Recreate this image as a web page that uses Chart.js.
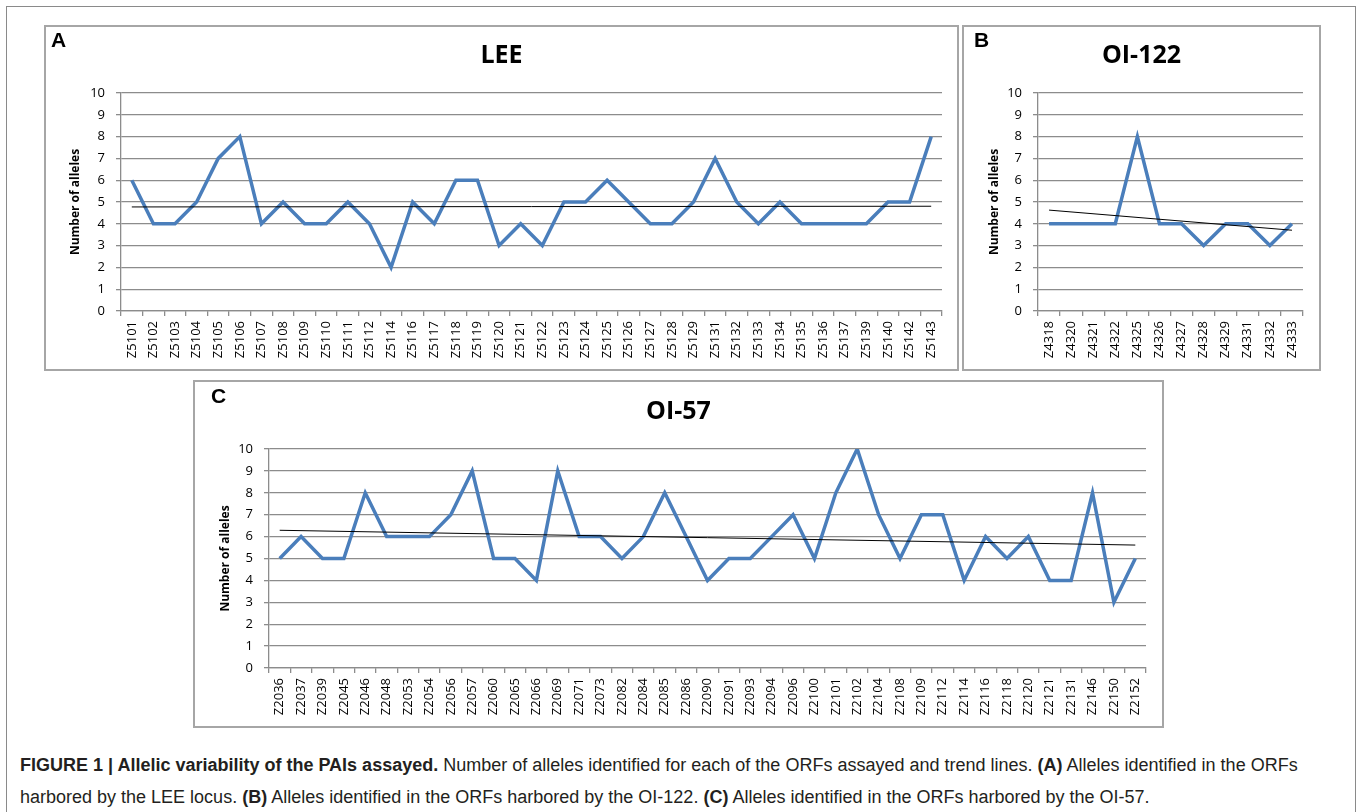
<!DOCTYPE html>
<html>
<head>
<meta charset="utf-8">
<script src="https://cdn.jsdelivr.net/npm/chart.js@4.4.1/dist/chart.umd.min.js"></script>
<style>
  body { margin: 0; background: #fff; width: 1357px; height: 812px; overflow: hidden; position: relative; font-family: "Liberation Sans", Arial, sans-serif; }
  .frame { position: absolute; left: 6px; top: 6px; width: 1350px; height: 830px; border: 1.5px solid #8a8a8a; box-sizing: border-box; }
  .panel { position: absolute; border: 2px solid #a6a6a6; box-sizing: border-box; background: #fff; }
  .panel canvas { display: block; }
  .letter { position: absolute; font: bold 21px "Liberation Sans", Arial, sans-serif; color: #000; }
  .caption { position: absolute; left: 20px; top: 749px; font-size: 18px; line-height: 32px; color: #231f20; white-space: nowrap; }
  .caption b { font-weight: bold; }
</style>
</head>
<body>
<div class="frame"></div>

<div class="panel" style="left:44px; top:25px; width:915px; height:346px;">
  <canvas id="chart-lee" width="911" height="342"></canvas>
</div>
<div class="letter" style="left:51px; top:28px;">A</div>

<div class="panel" style="left:962px; top:25px; width:359px; height:346px;">
  <canvas id="chart-oi122" width="355" height="342"></canvas>
</div>
<div class="letter" style="left:974px; top:28px;">B</div>

<div class="panel" style="left:193px; top:380px; width:971px; height:348px;">
  <canvas id="chart-oi57" width="967" height="344"></canvas>
</div>
<div class="letter" style="left:211px; top:384px;">C</div>

<div class="caption">
  <div><b>FIGURE 1 | Allelic variability of the PAIs assayed.</b> Number of alleles identified for each of the ORFs assayed and trend lines. <b>(A)</b> Alleles identified in the ORFs</div>
  <div>harbored by the LEE locus. <b>(B)</b> Alleles identified in the ORFs harbored by the OI-122. <b>(C)</b> Alleles identified in the ORFs harbored by the OI-57.</div>
</div>

<script>
// data
const leeLabels = ['Z5101', 'Z5102', 'Z5103', 'Z5104', 'Z5105', 'Z5106', 'Z5107', 'Z5108', 'Z5109', 'Z5110',
    'Z5111', 'Z5112', 'Z5114', 'Z5116', 'Z5117', 'Z5118', 'Z5119', 'Z5120', 'Z5121', 'Z5122',
    'Z5123', 'Z5124', 'Z5125', 'Z5126', 'Z5127', 'Z5128', 'Z5129', 'Z5131', 'Z5132', 'Z5133',
    'Z5134', 'Z5135', 'Z5136', 'Z5137', 'Z5139', 'Z5140', 'Z5142', 'Z5143'];
const leeAlleles = [6, 4, 4, 5, 7, 8, 4, 5, 4, 4,
    5, 4, 2, 5, 4, 6, 6, 3, 4, 3,
    5, 5, 6, 5, 4, 4, 5, 7, 5, 4,
    5, 4, 4, 4, 4, 5, 5, 8];

const oi122Labels = ['Z4318', 'Z4320', 'Z4321', 'Z4322', 'Z4325', 'Z4326', 'Z4327', 'Z4328', 'Z4329', 'Z4331', 'Z4332', 'Z4333'];
const oi122Alleles = [4, 4, 4, 4, 8, 4, 4, 3, 4, 4, 3, 4];

const oi57Labels = ['Z2036', 'Z2037', 'Z2039', 'Z2045', 'Z2046', 'Z2048', 'Z2053', 'Z2054', 'Z2056', 'Z2057',
    'Z2060', 'Z2065', 'Z2066', 'Z2069', 'Z2071', 'Z2073', 'Z2082', 'Z2084', 'Z2085', 'Z2086',
    'Z2090', 'Z2091', 'Z2093', 'Z2094', 'Z2096', 'Z2100', 'Z2101', 'Z2102', 'Z2104', 'Z2108',
    'Z2109', 'Z2112', 'Z2114', 'Z2116', 'Z2118', 'Z2120', 'Z2121', 'Z2131', 'Z2146', 'Z2150', 'Z2152'];
const oi57Alleles = [5, 6, 5, 5, 8, 6, 6, 6, 7, 9,
    5, 5, 4, 9, 6, 6, 5, 6, 8, 6,
    4, 5, 5, 6, 7, 5, 8, 10, 7, 5,
    7, 7, 4, 6, 5, 6, 4, 4, 8, 3, 5];

const yTicks = [0, 1, 2, 3, 4, 5, 6, 7, 8, 9, 10];

const gridGray = '#8c8c8c';

// least squares trend line, only the two end points are kept
function trendEnds(values) {
    const n = values.length;
    let sx = 0, sy = 0, sxy = 0, sxx = 0;
    values.forEach((y, x) => { sx += x; sy += y; sxy += x * y; sxx += x * x; });
    const slope = (n * sxy - sx * sy) / (n * sxx - sx * sx);
    const icpt = (sy - slope * sx) / n;
    return values.map((v, i) => (i === 0 || i === n - 1) ? icpt + slope * i : null);
}

function makeChart(id, title, labels, values, lay) {
    const ctx = document.getElementById(id).getContext('2d');
    return new Chart(ctx, {
        type: 'line',
        data: {
            labels: labels,
            datasets: [{
                data: values,
                borderColor: '#4a7ebb',
                borderWidth: 3.5,
                pointRadius: 0,
                tension: 0,
                order: 2
            }, {
                data: trendEnds(values),
                borderColor: '#000',
                borderWidth: 1,
                pointRadius: 0,
                spanGaps: true,
                order: 1
            }]
        },
        options: {
            responsive: false,
            animation: false,
            events: [],
            layout: { padding: { left: lay.side, right: lay.side, top: 0, bottom: 0 } },
            plugins: {
                legend: { display: false },
                tooltip: { enabled: false },
                title: {
                    display: true,
                    text: title,
                    color: '#000',
                    font: { family: 'Open Sans', weight: 'bold', size: 25, lineHeight: 1.2 },
                    padding: { top: lay.titleTop, bottom: lay.top - lay.titleTop - 30 }
                }
            },
            scales: {
                x: {
                    offset: true,
                    afterFit: (s) => { s.height = lay.bottom; },
                    grid: { offset: true, drawOnChartArea: false, drawTicks: true, tickLength: 5, color: gridGray, lineWidth: 1.3 },
                    border: { display: true, color: gridGray, width: 1.3 },
                    ticks: {
                        autoSkip: false, minRotation: 90, maxRotation: 90, padding: 5,
                        color: '#000', font: { family: 'Open Sans', size: 13 }
                    }
                },
                y: {
                    min: 0,
                    max: 10,
                    afterFit: (s) => { s.width = lay.left - lay.side; },
                    afterBuildTicks: (s) => { s.ticks = yTicks.map(v => ({ value: v })); },
                    grid: { drawTicks: true, tickLength: 5, color: gridGray, lineWidth: 1.3 },
                    border: { display: true, color: gridGray, width: 1.3 },
                    ticks: { padding: 11, color: '#000', font: { family: 'Open Sans', size: 13 } },
                    title: {
                        display: true,
                        text: 'Number of alleles',
                        color: '#000',
                        font: { family: 'Open Sans', weight: 'bold', size: 12 },
                        padding: { top: 7, bottom: 0 }
                    }
                }
            }
        }
    });
}

makeChart('chart-lee', 'LEE', leeLabels, leeAlleles, { left: 75, side: 15, top: 66, titleTop: 14, bottom: 58 });
makeChart('chart-oi122', 'OI-122', oi122Labels, oi122Alleles, { left: 74, side: 16, top: 66, titleTop: 14, bottom: 58 });
makeChart('chart-oi57', 'OI-57', oi57Labels, oi57Alleles, { left: 74, side: 16, top: 67, titleTop: 15, bottom: 58 });
</script>
</body>
</html>
